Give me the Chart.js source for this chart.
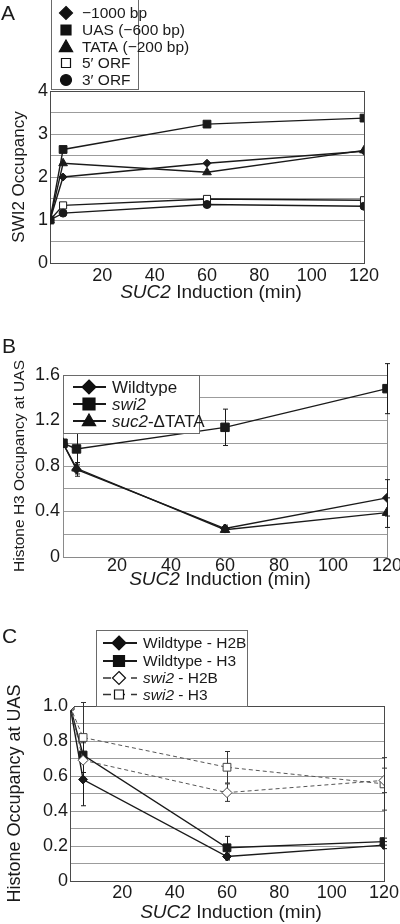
<!DOCTYPE html>
<html>
<head>
<meta charset="utf-8">
<script src="https://cdn.jsdelivr.net/npm/chart.js@4.4.1/dist/chart.umd.min.js"></script>
<style>
  body { margin: 0; background: #fff; width: 400px; height: 924px; position: relative; overflow: hidden; }
  .panel { position: absolute; left: 0; width: 400px; }
</style>
</head>
<body>
<div class="panel" style="top:0;height:305px"><canvas id="chartA"></canvas></div>
<div class="panel" style="top:305px;height:305px"><canvas id="chartB"></canvas></div>
<div class="panel" style="top:610px;height:314px"><canvas id="chartC"></canvas></div>
<script>
// ---- data ----
const xTickLabels = [20, 40, 60, 80, 100, 120];

// A: SWI2 occupancy
const timesA = [0, 5, 60, 120];
const bp1000 = [1.0, 2.0, 2.32, 2.6];
const uas600 = [1.0, 2.64, 3.23, 3.37];
const tata200 = [1.0, 2.32, 2.11, 2.62];
const orf5 = [1.0, 1.34, 1.49, 1.46];
const orf3 = [1.0, 1.16, 1.36, 1.32];
const yTicksA = [0, 1, 2, 3, 4];

// B: histone H3 at UAS
const timesB = [0, 5, 60, 120];
const h3Wildtype = [1.0, 0.77, 0.25, 0.52];
const h3Swi2 = [1.0, 0.95, 1.14, 1.48];
const h3DeltaTata = [1.0, 0.78, 0.24, 0.39];
const h3WildtypeErr = [0, 0.06, 0.03, 0.16];
const h3Swi2Err = [0, 0.14, 0.16, 0.22];
const h3DeltaTataErr = [0, 0.05, 0.02, 0.13];
const yTicksB = [0, 0.4, 0.8, 1.2, 1.6];

// C: histone occupancy at UAS
const timesC = [0, 5, 60, 120];
const wtH2B = [1.0, 0.58, 0.14, 0.205];
const wtH3 = [1.0, 0.72, 0.19, 0.225];
const swiH2B = [1.0, 0.69, 0.505, 0.575];
const swiH3 = [1.0, 0.82, 0.65, 0.555];
const wtH2BErr = [0, 0.15, 0.02, 0.02];
const wtH3Err = [0, 0.1, 0.065, 0.02];
const swiH2BErr = [0, 0.1, 0.05, 0.07];
const swiH3Err = [0, 0.2, 0.09, 0.15];
const yTicksC = [0, 0.2, 0.4, 0.6, 0.8, 1.0];

const FONT = '"Liberation Sans", Arial, sans-serif';
const INK = '#1a1a1a';

function pts(times, vals) {
  return times.map((t, i) => ({ x: t, y: vals[i] }));
}

function drawMarker(ctx, style, r, x, y, fill, stroke) {
  ctx.save();
  ctx.fillStyle = fill;
  ctx.strokeStyle = stroke;
  ctx.lineWidth = 1.2;
  ctx.beginPath();
  if (style === 'diamond') {
    ctx.moveTo(x, y - r);
    ctx.lineTo(x + r, y);
    ctx.lineTo(x, y + r);
    ctx.lineTo(x - r, y);
    ctx.closePath();
  } else if (style === 'rect') {
    ctx.rect(x - r, y - r, 2 * r, 2 * r);
  } else if (style === 'triangle') {
    ctx.moveTo(x, y - r);
    ctx.lineTo(x + r * 0.95, y + r * 0.65);
    ctx.lineTo(x - r * 0.95, y + r * 0.65);
    ctx.closePath();
  } else {
    ctx.arc(x, y, r, 0, Math.PI * 2);
  }
  ctx.fill();
  ctx.stroke();
  ctx.restore();
}

function drawRich(ctx, parts, x, y, size, align) {
  let w = 0;
  parts.forEach(p => { ctx.font = (p.i ? 'italic ' : '') + size + 'px ' + FONT; w += ctx.measureText(p.t).width; });
  let cx = align === 'center' ? x - w / 2 : x;
  parts.forEach(p => {
    ctx.font = (p.i ? 'italic ' : '') + size + 'px ' + FONT;
    ctx.fillText(p.t, cx, y);
    cx += ctx.measureText(p.t).width;
  });
}

// frame round the plot area
const framePlugin = {
  id: 'frame',
  beforeDatasetsDraw(chart, args, opts) {
    const a = chart.chartArea, ctx = chart.ctx;
    ctx.save();
    ctx.strokeStyle = opts.color || '#555';
    ctx.lineWidth = 1;
    ctx.strokeRect(Math.round(a.left) + 0.5, Math.round(a.top) + 0.5, Math.round(a.right - a.left), Math.round(a.bottom - a.top));
    ctx.restore();
  }
};

// error bars from dataset.errors
const errorBarPlugin = {
  id: 'errbars',
  beforeDatasetsDraw(chart) {
    const ctx = chart.ctx, xs = chart.scales.x, ys = chart.scales.y;
    ctx.save();
    chart.data.datasets.forEach(ds => {
      if (!ds.errors) return;
      ctx.strokeStyle = ds.errorColor || INK;
      ctx.lineWidth = 1;
      ds.data.forEach((p, i) => {
        const e = ds.errors[i];
        if (!e) return;
        const px = Math.round(xs.getPixelForValue(p.x)) + 0.5;
        const top = ys.getPixelForValue(p.y + e), bot = ys.getPixelForValue(p.y - e);
        ctx.beginPath();
        ctx.moveTo(px, top); ctx.lineTo(px, bot);
        ctx.moveTo(px - 2.5, top); ctx.lineTo(px + 2.5, top);
        ctx.moveTo(px - 2.5, bot); ctx.lineTo(px + 2.5, bot);
        ctx.stroke();
      });
    });
    ctx.restore();
  }
};

// panel letter, x title and legend
const decorPlugin = {
  id: 'decor',
  afterDraw(chart, args, o) {
    const ctx = chart.ctx;
    ctx.save();
    ctx.fillStyle = INK;
    ctx.textBaseline = 'alphabetic';
    ctx.font = '21px ' + FONT;
    ctx.fillText(o.letter, o.letterPos[0], o.letterPos[1]);
    drawRich(ctx, [{ t: 'SUC2', i: true }, { t: ' Induction (min)' }], o.xTitle[0], o.xTitle[1], 19, 'center');

    const L = o.legend;
    ctx.fillStyle = '#fff';
    ctx.fillRect(L.box[0], L.box[1], L.box[2], L.box[3]);
    ctx.strokeStyle = '#6a6a6a';
    ctx.lineWidth = 1;
    ctx.strokeRect(L.box[0] + 0.5, L.box[1] + 0.5, L.box[2], L.box[3]);
    ctx.textBaseline = 'middle';
    L.items.forEach((it, k) => {
      const y = L.rows[k];
      if (it.line) {
        ctx.save();
        ctx.strokeStyle = it.line.color;
        ctx.lineWidth = it.line.width;
        ctx.setLineDash(it.line.dash || []);
        ctx.beginPath(); ctx.moveTo(L.line[0], y); ctx.lineTo(L.line[1], y); ctx.stroke();
        ctx.restore();
      }
      drawMarker(ctx, it.m, it.r, L.markerX, y, it.open ? '#ffffff' : '#111111', '#111111');
      ctx.fillStyle = INK;
      drawRich(ctx, it.parts, L.textX, y + 1, L.size, 'left');
    });
    ctx.restore();
  }
};

function near(v, list) {
  return list.some(t => Math.abs(t - v) < 1e-6);
}

function makeChart(id, cfg) {
  return new Chart(document.getElementById(id), {
    type: 'line',
    data: { datasets: cfg.datasets },
    options: {
      responsive: true,
      maintainAspectRatio: false,
      animation: false,
      layout: { padding: cfg.padding },
      plugins: {
        legend: { display: false },
        tooltip: { enabled: false },
        frame: { color: cfg.frameColor },
        decor: cfg.decor
      },
      scales: {
        x: {
          type: 'linear', min: 0, max: 120,
          grid: { display: false },
          border: { display: false },
          ticks: {
            stepSize: 20, autoSkip: false, maxRotation: 0,
            padding: cfg.xTickPad, color: INK,
            font: { size: 18, family: FONT },
            callback: v => (near(v, xTickLabels) ? String(v) : '')
          },
          afterFit: s => { s.height = cfg.xHeight; s.paddingLeft = 0; s.paddingRight = 0; }
        },
        y: {
          min: 0, max: cfg.yMax,
          grid: { color: '#9c9c9c', lineWidth: 1, drawTicks: false },
          border: { display: false },
          ticks: {
            stepSize: cfg.yStep, autoSkip: false,
            padding: cfg.yTickPad, color: INK,
            font: { size: 18, family: FONT },
            callback: v => (near(v, cfg.yTicks) ? cfg.yFmt(v) : '')
          },
          title: {
            display: true, text: cfg.yTitle, color: INK,
            font: { size: cfg.yTitleSize, family: FONT },
            padding: { top: cfg.yTitlePad, bottom: 0 }
          },
          afterFit: s => { s.width = cfg.yWidth; s.paddingTop = 0; s.paddingBottom = 0; }
        }
      }
    },
    plugins: [framePlugin, errorBarPlugin, decorPlugin]
  });
}

function series(label, times, vals, style, r, extra) {
  return Object.assign({
    label: label,
    data: pts(times, vals),
    borderColor: INK, backgroundColor: INK,
    borderWidth: 1.4,
    pointStyle: style, pointRadius: r,
    pointBackgroundColor: INK, pointBorderColor: INK, pointBorderWidth: 1,
    tension: 0
  }, extra || {});
}

const fmtDec = v => (v === 0 ? '0' : v.toFixed(1));

// Panel A
makeChart('chartA', {
  padding: { left: 0, right: 36, top: 91, bottom: 0 },
  xHeight: 42, xTickPad: -6, yWidth: 50, yTickPad: 2,
  yMax: 4, yStep: 0.5, yTicks: yTicksA, yFmt: v => String(v),
  yTitle: 'SWI2 Occupancy', yTitleSize: 17, yTitlePad: 9,
  frameColor: '#4a4a4a',
  datasets: [
    series('3\u2032 ORF', timesA, orf3, 'circle', 4),
    series('5\u2032 ORF', timesA, orf5, 'rect', 5, { pointBackgroundColor: '#fff' }),
    series('-1000 bp', timesA, bp1000, 'rectRot', 4),
    series('TATA', timesA, tata200, 'triangle', 5),
    series('UAS', timesA, uas600, 'rect', 5.5)
  ],
  decor: {
    letter: 'A', letterPos: [1, 20], xTitle: [211, 298],
    legend: {
      box: [51, -1, 87, 90], rows: [13, 30, 47, 63, 80], markerX: 66, textX: 82, size: 15.5,
      items: [
        { m: 'diamond', r: 6.5, parts: [{ t: '\u22121000 bp' }] },
        { m: 'rect', r: 5, parts: [{ t: 'UAS (\u2212600 bp)' }] },
        { m: 'triangle', r: 7, parts: [{ t: 'TATA (\u2212200 bp)' }] },
        { m: 'rect', r: 4.5, open: true, parts: [{ t: '5\u2032 ORF' }] },
        { m: 'circle', r: 5.5, parts: [{ t: '3\u2032 ORF' }] }
      ]
    }
  }
});

// Panel B
makeChart('chartB', {
  padding: { left: 0, right: 13, top: 70, bottom: 13 },
  xHeight: 40, xTickPad: -10, yWidth: 63, yTickPad: 3,
  yMax: 1.6, yStep: 0.2, yTicks: yTicksB, yFmt: fmtDec,
  yTitle: 'Histone H3 Occupancy at UAS', yTitleSize: 15.5, yTitlePad: 10.5,
  frameColor: '#8a8a8a',
  datasets: [
    series('suc2-\u0394TATA', timesB, h3DeltaTata, 'triangle', 5.5, { errors: h3DeltaTataErr }),
    series('Wildtype', timesB, h3Wildtype, 'rectRot', 4.5, { errors: h3WildtypeErr }),
    series('swi2', timesB, h3Swi2, 'rect', 6, { errors: h3Swi2Err })
  ],
  decor: {
    letter: 'B', letterPos: [2, 48], xTitle: [220, 280],
    legend: {
      box: [63, 70, 136, 58], rows: [82, 99, 116], markerX: 89, line: [73, 106], textX: 112, size: 17,
      items: [
        { m: 'diamond', r: 7, line: { color: INK, width: 2 }, parts: [{ t: 'Wildtype' }] },
        { m: 'rect', r: 6, line: { color: INK, width: 2 }, parts: [{ t: 'swi2', i: true }] },
        { m: 'triangle', r: 7, line: { color: INK, width: 2 }, parts: [{ t: 'suc2', i: true }, { t: '-\u0394TATA' }] }
      ]
    }
  }
});

// Panel C
makeChart('chartC', {
  padding: { left: 0, right: 16, top: 96, bottom: 3 },
  xHeight: 40, xTickPad: -7, yWidth: 70, yTickPad: 2,
  yMax: 1.0, yStep: 0.1, yTicks: yTicksC, yFmt: fmtDec,
  yTitle: 'Histone Occupancy at UAS', yTitleSize: 18, yTitlePad: 4,
  frameColor: '#4a4a4a',
  datasets: [
    series('swi2 - H2B', timesC, swiH2B, 'rectRot', 5, {
      borderColor: '#555', borderWidth: 1, borderDash: [4, 3],
      pointBackgroundColor: '#fff', pointBorderColor: '#444', errors: swiH2BErr, errorColor: '#333'
    }),
    series('swi2 - H3', timesC, swiH3, 'rect', 5.5, {
      borderColor: '#555', borderWidth: 1, borderDash: [4, 3],
      pointBackgroundColor: '#fff', pointBorderColor: '#444', errors: swiH3Err, errorColor: '#333'
    }),
    series('Wildtype - H2B', timesC, wtH2B, 'rectRot', 4.5, { errors: wtH2BErr }),
    series('Wildtype - H3', timesC, wtH3, 'rect', 5.5, { errors: wtH3Err })
  ],
  decor: {
    letter: 'C', letterPos: [2, 33], xTitle: [231, 308],
    legend: {
      box: [96, 20, 151, 76], rows: [33, 51, 68, 84.5], markerX: 119, line: [103, 137], textX: 143, size: 15.5,
      items: [
        { m: 'diamond', r: 7, line: { color: INK, width: 2 }, parts: [{ t: 'Wildtype - H2B' }] },
        { m: 'rect', r: 5.5, line: { color: INK, width: 2 }, parts: [{ t: 'Wildtype - H3' }] },
        { m: 'diamond', r: 6.5, open: true, line: { color: '#333', width: 1.5, dash: [8, 6] }, parts: [{ t: 'swi2', i: true }, { t: ' - H2B' }] },
        { m: 'rect', r: 4.5, open: true, line: { color: '#333', width: 1.5, dash: [8, 6] }, parts: [{ t: 'swi2', i: true }, { t: ' - H3' }] }
      ]
    }
  }
});
</script>
</body>
</html>
